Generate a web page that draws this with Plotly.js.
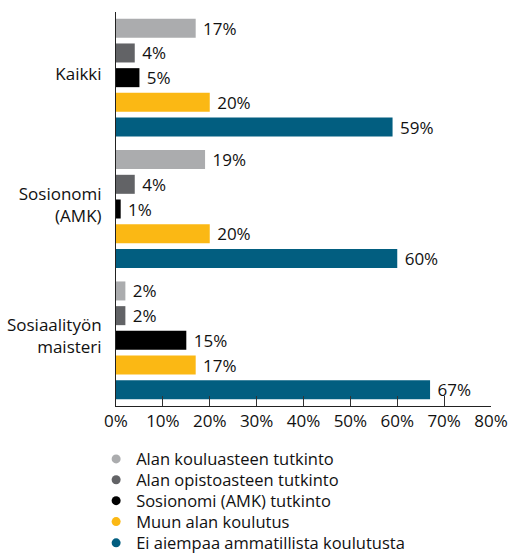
<!DOCTYPE html>
<html>
<head>
<meta charset="utf-8">
<script src="https://cdn.plot.ly/plotly-3.0.1.min.js"></script>
<style>html,body{margin:0;padding:0;background:#fff}#chart{width:512px;height:553px}</style>
</head>
<body>
<div id="chart"></div>
<script>
const categories = ['Kaikki', 'Sosionomi<br>(AMK)', 'Sosiaalityön<br>maisteri'];
const seriesNames = ['Alan kouluasteen tutkinto', 'Alan opistoasteen tutkinto', 'Sosionomi (AMK) tutkinto', 'Muun alan koulutus', 'Ei aiempaa ammatillista koulutusta'];
const alanKouluaste = [17, 19, 2];
const alanOpistoaste = [4, 4, 2];
const sosionomiTutkinto = [5, 1, 15];
const muunAlan = [20, 20, 17];
const eiAiempaa = [59, 60, 67];
const xTickVals = [0, 10, 20, 30, 40, 50, 60, 70, 80];
const xTickText = ['0%', '10%', '20%', '30%', '40%', '50%', '60%', '70%', '80%'];

const seriesValues = [alanKouluaste, alanOpistoaste, sosionomiTutkinto, muunAlan, eiAiempaa];
const colors = ['#abacae', '#626366', '#000000', '#fbb814', '#025e80'];
const FONT = '"Open Sans", "Noto Sans", sans-serif';
const legendIds = ['legend', 'legend2', 'legend3', 'legend4', 'legend5'];
const legendYs = [-0.135, -0.188, -0.241, -0.294, -0.348];

const traces = [];
seriesValues.forEach((vals, i) => {
  traces.push({
    type: 'bar', orientation: 'h',
    name: seriesNames[i],
    x: vals, y: categories,
    marker: {color: colors[i]},
    text: vals.map(v => '\u00a0' + v + '%'),
    textposition: 'outside',
    constraintext: 'none',
    textfont: {family: FONT, size: 17, color: '#111'},
    cliponaxis: false,
    showlegend: false,
    hoverinfo: 'x+name'
  });
});
seriesValues.forEach((vals, i) => {
  traces.push({
    type: 'scatter', mode: 'markers',
    name: seriesNames[i],
    x: [null], y: [null],
    legend: legendIds[i],
    marker: {color: colors[i], size: 9, symbol: 'circle'},
    showlegend: true
  });
});

const layout = {
  width: 512, height: 553,
  margin: {l: 116, r: 21, t: 12, b: 147, autoexpand: false},
  paper_bgcolor: '#fff', plot_bgcolor: '#fff',
  font: {family: FONT, size: 17, color: '#111'},
  barmode: 'group',
  bargap: 0.06,
  bargroupgap: 0.23,
  xaxis: {
    range: [0, 80], tickmode: 'array', tickvals: xTickVals, ticktext: xTickText,
    ticks: 'inside', ticklen: 10, tickcolor: '#333', tickwidth: 1,
    showline: true, linecolor: '#222', linewidth: 1,
    showgrid: false, zeroline: false, fixedrange: true,
    tickfont: {family: FONT, size: 17, color: '#111'}
  },
  yaxis: {
    type: 'category', categoryorder: 'array', categoryarray: categories,
    autorange: 'reversed',
    showline: true, linecolor: '#222', linewidth: 1,
    ticks: '', showgrid: false, zeroline: false, fixedrange: true,
    ticklabelstandoff: 10,
    ticklabelshift: 4,
    tickfont: {family: FONT, size: 17, color: '#111'}
  },
  showlegend: true
};
legendIds.forEach((id, i) => {
  layout[id] = {
    orientation: 'v', x: -0.053, xanchor: 'left', y: legendYs[i], yanchor: 'middle',
    font: {family: FONT, size: 16.5, color: '#111'},
    bgcolor: 'rgba(0,0,0,0)', borderwidth: 0, itemclick: false, itemdoubleclick: false
  };
});

Plotly.newPlot('chart', traces, layout, {displayModeBar: false, staticPlot: true});
</script>
</body>
</html>
